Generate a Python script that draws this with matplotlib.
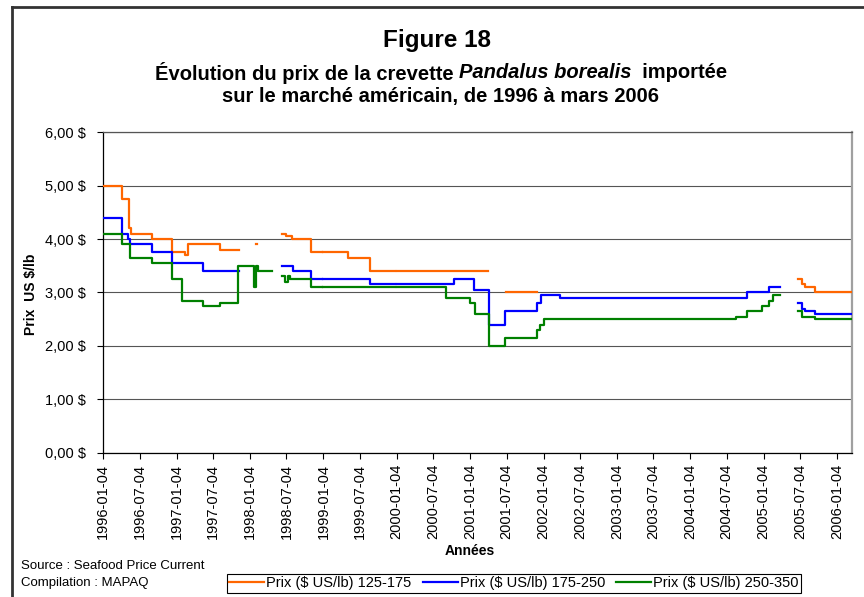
import numpy as np
import matplotlib
matplotlib.use('Agg')
import matplotlib.pyplot as plt
import matplotlib.ticker as mticker
from matplotlib.lines import Line2D

plt.rcParams['font.family'] = ['Liberation Sans', 'DejaVu Sans']
nan = np.nan

# ---- données (paliers, nan = pas de donnée) ----
d_125 = ['1996-01-04', '1996-04-08', '1996-05-10', '1996-05-20', '1996-09-01', '1996-12-10',
         '1997-02-15', '1997-03-02', '1997-08-07', '1997-11-08', '1998-02-01', '1998-02-08',
         '1998-06-12', '1998-07-02', '1998-08-01', '1998-11-01', '1998-12-28', '1999-01-04',
         '1999-05-05', '1999-08-24', '1999-12-28', '2000-01-04', '2001-04-04', '2001-07-02',
         '2001-12-02', '2005-06-23', '2005-07-13', '2005-07-28', '2005-09-19', '2006-03-20']
p_125 = [5.00, 4.75, 4.20, 4.10, 4.00, 3.75,
         3.70, 3.90, 3.80, nan, 3.90, nan,
         4.10, 4.05, 4.00, 3.75, nan, 3.75,
         3.65, 3.40, nan, 3.40, nan, 3.00,
         nan, 3.25, 3.15, 3.10, 3.00, 3.00]

d_175 = ['1996-01-04', '1996-04-08', '1996-05-08', '1996-05-18', '1996-09-01', '1996-12-10',
         '1997-05-16', '1997-11-08', '1998-06-12', '1998-08-06', '1998-11-01', '1998-12-28',
         '1999-01-04', '1999-08-24', '1999-12-28', '2000-01-04', '2000-10-15', '2001-01-25',
         '2001-04-08', '2001-06-25', '2001-12-03', '2001-12-20', '2002-03-25', '2004-10-12',
         '2005-01-31', '2005-03-27', '2005-06-23', '2005-07-12', '2005-07-28', '2005-09-19',
         '2006-03-20']
p_175 = [4.40, 4.10, 4.00, 3.90, 3.75, 3.55,
         3.40, nan, 3.50, 3.40, 3.25, nan,
         3.25, 3.15, nan, 3.15, 3.25, 3.05,
         2.40, 2.65, 2.80, 2.95, 2.90, 3.00,
         3.10, nan, 2.80, 2.70, 2.65, 2.60,
         2.60]

d_250 = ['1996-01-04', '1996-04-08', '1996-05-15', '1996-09-01', '1996-12-10', '1997-01-29',
         '1997-05-16', '1997-08-07', '1997-11-06', '1998-01-25', '1998-02-02', '1998-02-10',
         '1998-04-22', '1998-06-12', '1998-06-26', '1998-07-10', '1998-07-24', '1998-11-01',
         '1998-12-28', '1999-01-04', '1999-12-28', '2000-01-04', '2000-09-05', '2001-01-04',
         '2001-01-29', '2001-04-08', '2001-06-25', '2001-12-02', '2001-12-16', '2002-01-06',
         '2004-08-18', '2004-10-12', '2004-12-29', '2005-01-31', '2005-02-20', '2005-03-27',
         '2005-06-23', '2005-07-12', '2005-09-19', '2006-03-20']
p_250 = [4.10, 3.90, 3.65, 3.55, 3.25, 2.85,
         2.75, 2.80, 3.50, 3.10, 3.50, 3.40,
         nan, 3.30, 3.20, 3.30, 3.25, 3.10,
         nan, 3.10, nan, 3.10, 2.90, 2.80,
         2.60, 2.00, 2.15, 2.30, 2.40, 2.50,
         2.55, 2.65, 2.75, 2.85, 2.95, nan,
         2.65, 2.55, 2.50, 2.50]

series = [('Prix ($ US/lb) 125-175', d_125, p_125, '#FF6600'),
          ('Prix ($ US/lb) 175-250', d_175, p_175, '#0000FF'),
          ('Prix ($ US/lb) 250-350', d_250, p_250, '#008000')]

tick_dates = [f'{y}-{m}-04' for y in range(1996, 2007) for m in ('01', '07')][:-1]

W, H = 864, 597
fig = plt.figure(figsize=(W / 100, H / 100), dpi=100)

# cadre extérieur (gauche + haut)
fig.add_artist(Line2D([12 / W, 12 / W], [0, 1 - 7 / H], transform=fig.transFigure, color='#333333', lw=2))
fig.add_artist(Line2D([12 / W, 1], [1 - 7 / H, 1 - 7 / H], transform=fig.transFigure, color='#333333', lw=2))

ax = fig.add_axes([103.3 / W, 1 - 452.7 / H, (852 - 103.3) / W, (452.7 - 132.3) / H])
for lab, d, p, c in series:
    ax.plot(np.array(d, dtype='datetime64[D]'), p, drawstyle='steps-post', color=c, lw=1.6, label=lab, zorder=3)

ax.set_ylim(0, 6)
ax.set_xlim(np.datetime64('1996-01-04'), np.datetime64('2006-03-20'))
ax.yaxis.set_major_locator(mticker.MultipleLocator(1))
ax.yaxis.set_major_formatter(mticker.FuncFormatter(lambda v, _: f'{v:.2f} $'.replace('.', ',')))
ax.set_xticks(np.array(tick_dates, dtype='datetime64[D]'))
ax.set_xticklabels(tick_dates, rotation=90)
ax.grid(axis='y', color='#555555', lw=0.8)
ax.set_axisbelow(True)
ax.tick_params(axis='both', direction='out', length=4, width=0.8, labelsize=10.5, color='black')
ax.tick_params(axis='y', pad=8.5)
ax.tick_params(axis='x', pad=4)
for s in ('left', 'bottom'):
    ax.spines[s].set_color('black'); ax.spines[s].set_linewidth(0.9)
ax.spines['top'].set_color('#555555'); ax.spines['top'].set_linewidth(0.9)
ax.spines['right'].set_color('#a0a0a0'); ax.spines['right'].set_linewidth(1.6)

fig.text(31 / W, 1 - 294 / H, 'Prix  US $/lb', rotation=90, ha='center', va='center',
         fontsize=10, fontweight='bold')
fig.text(470 / W, 1 - 551 / H, 'Années', ha='center', va='center', fontsize=10, fontweight='bold')

# titre
fig.text(437 / W, 1 - 40 / H, 'Figure 18', ha='center', va='center', fontsize=17.5, fontweight='bold')
parts = [('Évolution du prix de la crevette ', 'normal'), ('Pandalus borealis', 'italic'), ('  importée', 'normal')]
r = fig.canvas.get_renderer()
objs = [fig.text(0, 1 - 72.5 / H, t, ha='left', va='center', fontsize=14.5, fontweight='bold', style=st)
        for t, st in parts]
widths = [o.get_window_extent(r).width for o in objs]
x0 = 441 - sum(widths) / 2
for o, w in zip(objs, widths):
    o.set_x(x0 / W); x0 += w
fig.text(441 / W, 1 - 96.5 / H, 'sur le marché américain, de 1996 à mars 2006', ha='center', va='center',
         fontsize=14.5, fontweight='bold')

# source + légende
fig.text(21 / W, 1 - 566 / H, 'Source : Seafood Price Current', ha='left', va='center', fontsize=9.5)
fig.text(21 / W, 1 - 583 / H, 'Compilation : MAPAQ', ha='left', va='center', fontsize=9.5)
leg = fig.legend(loc='center', bbox_to_anchor=(514 / W, 1 - 583.5 / H), ncol=3, fontsize=10.5,
                 frameon=True, fancybox=False, framealpha=1, edgecolor='black', handlelength=2.4,
                 handletextpad=0.15, columnspacing=0.75, borderpad=0.15, borderaxespad=0)
leg.get_frame().set_linewidth(0.8)

fig.savefig('out.png', dpi=100)
